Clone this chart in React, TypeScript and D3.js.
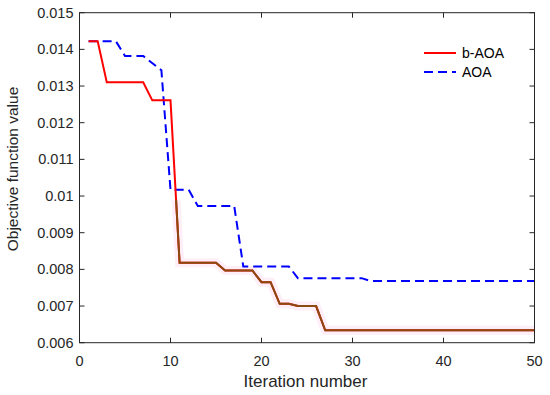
import React from "react";
import * as d3 from "d3";

// b-AOA convergence curve (iteration -> best objective value)
const bAoaIter = [1, 2, 3, 7, 8, 10, 11, 15, 16, 19, 20, 21, 22, 23, 24, 26, 27, 50];
const bAoaValue = [
  0.01422, 0.01422, 0.0131, 0.0131, 0.01261, 0.01261, 0.00818, 0.00818, 0.00797,
  0.00797, 0.00765, 0.00765, 0.00706, 0.00706, 0.007, 0.007, 0.00634, 0.00634,
];

// AOA convergence curve
const aoaIter = [1, 4, 5, 7, 9, 10, 12, 13, 17, 18, 23, 24, 31, 32, 50];
const aoaValue = [
  0.01422, 0.01422, 0.01382, 0.01382, 0.01343, 0.01017, 0.01017, 0.00973, 0.00973,
  0.00808, 0.00808, 0.00776, 0.00776, 0.00768, 0.00768,
];

const xTicks = [0, 10, 20, 30, 40, 50];
const yTicks = [0.006, 0.007, 0.008, 0.009, 0.01, 0.011, 0.012, 0.013, 0.014, 0.015];
const seriesNames = ["b-AOA", "AOA"];

const width = 550;
const height = 395;
const margin = { top: 12.7, right: 15.5, bottom: 52.3, left: 79.5 };

const App = () => {
  const x = d3.scaleLinear().domain([0, 50]).range([margin.left, width - margin.right]);
  const y = d3.scaleLinear().domain([0.006, 0.015]).range([height - margin.bottom, margin.top]);

  const bAoa = bAoaIter.map((it, i) => [it, bAoaValue[i]] as [number, number]);
  const aoa = aoaIter.map((it, i) => [it, aoaValue[i]] as [number, number]);

  const line = d3
    .line<[number, number]>()
    .x((d) => x(d[0]))
    .y((d) => y(d[1]));

  const x0 = margin.left;
  const x1 = width - margin.right;
  const y0 = height - margin.bottom;
  const y1 = margin.top;
  const txt = "#262626";
  const font = "'Liberation Sans', Arial, Helvetica, sans-serif";

  return (
    <svg
      width={width}
      height={height}
      style={{ position: "absolute", left: 0, top: 0, background: "#fff" }}
      fontFamily={font}
    >
      <defs>
        <clipPath id="lowPart">
          <rect x={x0} y={y(0.0099)} width={x1 - x0} height={y0 - y(0.0099)} />
        </clipPath>
      </defs>

      {/* faint pink halo around lower part of b-AOA */}
      <path
        d={line(bAoa) || ""}
        fill="none"
        stroke="#fdeef8"
        strokeWidth={9}
        clipPath="url(#lowPart)"
      />

      {/* AOA dashed */}
      <path
        d={line(aoa) || ""}
        fill="none"
        stroke="#0000ff"
        strokeWidth={2}
        strokeDasharray="9,5"
      />

      {/* b-AOA */}
      <path d={line(bAoa) || ""} fill="none" stroke="#ff0000" strokeWidth={2} />
      <path
        d={line(bAoa) || ""}
        fill="none"
        stroke="#8a4a12"
        strokeWidth={2}
        clipPath="url(#lowPart)"
      />

      {/* axes box */}
      <rect x={x0} y={y1} width={x1 - x0} height={y0 - y1} fill="none" stroke={txt} strokeWidth={1} />

      {xTicks.map((t) => (
        <g key={"x" + t}>
          <line x1={x(t)} x2={x(t)} y1={y0} y2={y0 - 5} stroke={txt} />
          <line x1={x(t)} x2={x(t)} y1={y1} y2={y1 + 5} stroke={txt} />
          <text x={x(t)} y={y0 + 23} textAnchor="middle" fontSize={14.5} fill={txt}>
            {t}
          </text>
        </g>
      ))}

      {yTicks.map((t) => (
        <g key={"y" + t}>
          <line x1={x0} x2={x0 + 5} y1={y(t)} y2={y(t)} stroke={txt} />
          <line x1={x1} x2={x1 - 5} y1={y(t)} y2={y(t)} stroke={txt} />
          <text x={x0 - 6} y={y(t) + 5} textAnchor="end" fontSize={14.5} fill={txt}>
            {d3.format("~g")(t)}
          </text>
        </g>
      ))}

      <text x={305.5} y={387} textAnchor="middle" fontSize={17} fill={txt}>
        Iteration number
      </text>
      <text
        transform={`translate(18, 169) rotate(-90)`}
        textAnchor="middle"
        fontSize={15.5}
        fill={txt}
      >
        Objective function value
      </text>

      {/* legend */}
      {seriesNames.map((name, i) => (
        <g key={name} transform={`translate(424, ${53 + i * 19})`}>
          <line
            x1={0}
            x2={32}
            y1={0}
            y2={0}
            stroke={i === 0 ? "#ff0000" : "#0000ff"}
            strokeWidth={2}
            strokeDasharray={i === 0 ? undefined : "9,5"}
          />
          <text x={38} y={5} fontSize={14} fill="#000">
            {name}
          </text>
        </g>
      ))}
    </svg>
  );
};

export default App;
